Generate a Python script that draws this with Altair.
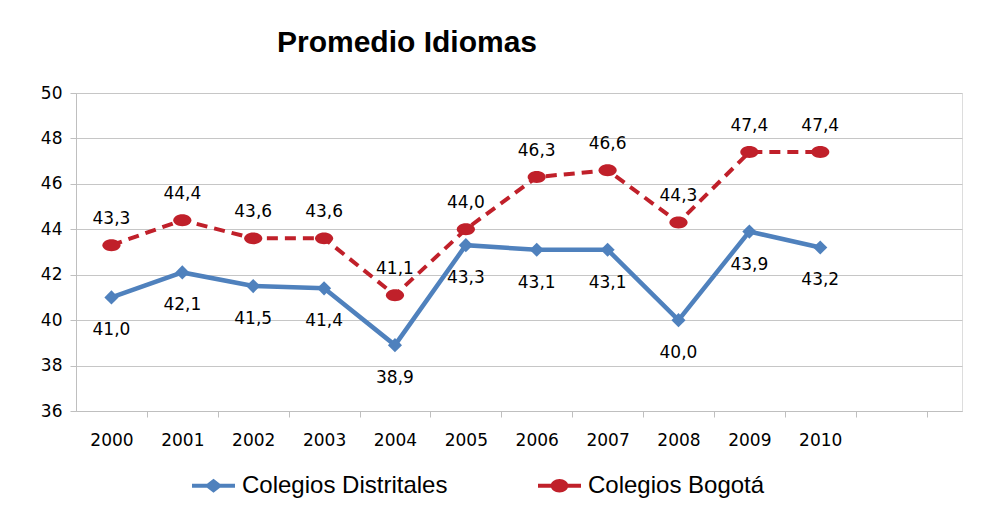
import altair as alt
import pandas as pd

years = [2000, 2001, 2002, 2003, 2004, 2005, 2006, 2007, 2008, 2009, 2010]
distritales = [41.0, 42.1, 41.5, 41.4, 38.9, 43.3, 43.1, 43.1, 40.0, 43.9, 43.2]
bogota = [43.3, 44.4, 43.6, 43.6, 41.1, 44.0, 46.3, 46.6, 44.3, 47.4, 47.4]
series = ["Colegios Distritales", "Colegios Bogotá"]
colors = ["#4f81bd", "#c0202a"]
y_ticks = [36, 38, 40, 42, 44, 46, 48, 50]
x_boundaries = [y + 0.5 for y in years] + [2011.5]

rows = []
for yr, v in zip(years, distritales):
    rows.append({"year": yr, "serie": series[0], "valor": v})
for yr, v in zip(years, bogota):
    rows.append({"year": yr, "serie": series[1], "valor": v})
df = pd.DataFrame(rows)

W, H = 886, 318
px_per_year = W / 12.5

x_enc = alt.X(
    "year:Q",
    scale=alt.Scale(domain=[1999.5, 2012], nice=False, zero=False),
    axis=alt.Axis(
        title=None,
        values=x_boundaries,
        labelExpr="datum.value < 2011 ? format(datum.value - 0.5, 'd') : ''",
        labelOffset=-px_per_year / 2,
        labelOverlap=False,
        labelFlush=False,
        grid=False,
        tickSize=6,
        tickColor="#bfbfbf",
        domainColor="#bfbfbf",
        labelFont="DejaVu Sans",
        labelFontSize=17,
        labelColor="#000000",
        labelPadding=15,
    ),
)
y_enc = alt.Y(
    "valor:Q",
    scale=alt.Scale(domain=[36, 50], nice=False, zero=False),
    axis=alt.Axis(
        title=None,
        values=y_ticks,
        grid=True,
        gridColor="#c6c6c6",
        gridWidth=1.2,
        tickSize=6,
        tickColor="#bfbfbf",
        domainColor="#bfbfbf",
        labelFont="DejaVu Sans",
        labelFontSize=17,
        labelColor="#000000",
        labelPadding=8,
    ),
)

base = alt.Chart(df)

blue_f = alt.datum.serie == series[0]
red_f = alt.datum.serie == series[1]

line_blue = base.transform_filter(blue_f).mark_line(
    color=colors[0], strokeWidth=4.5
).encode(x=x_enc, y=y_enc)
line_red = base.transform_filter(red_f).mark_line(
    color=colors[1], strokeWidth=4, strokeDash=[11, 7]
).encode(x=x_enc, y=y_enc)

ellipse = "M-1,0 A1,0.66 0 1,1 1,0 A1,0.66 0 1,1 -1,0 Z"
pts_blue = base.transform_filter(blue_f).mark_point(
    filled=True, shape="diamond", size=200, color=colors[0], opacity=1
).encode(x=x_enc, y=y_enc)
pts_red = base.transform_filter(red_f).mark_point(
    filled=True, shape=ellipse, size=330, color=colors[1], opacity=1
).encode(x=x_enc, y=y_enc)

lab_expr = "replace(format(datum.valor, '.1f'), '.', ',')"
txt_blue = base.transform_filter(blue_f).transform_calculate(
    lab=lab_expr
).mark_text(font="DejaVu Sans", fontSize=17, color="#000000", dy=33).encode(
    x=x_enc, y=y_enc, text="lab:N"
)
txt_red = base.transform_filter(red_f).transform_calculate(
    lab=lab_expr
).mark_text(font="DejaVu Sans", fontSize=17, color="#000000", dy=-26).encode(
    x=x_enc, y=y_enc, text="lab:N"
)

blue_sym = (
    "M-1,-0.095 L-0.3,-0.095 L0,-0.33 L0.3,-0.095 L1,-0.095 L1,0.095 "
    "L0.3,0.095 L0,0.33 L-0.3,0.095 L-1,0.095 Z"
)
red_sym = (
    "M-1,-0.095 L1,-0.095 L1,0.095 L-1,0.095 Z "
    "M-0.41,0 A0.41,0.31 0 1,1 0.41,0 A0.41,0.31 0 1,1 -0.41,0 Z"
)

leg = alt.Legend(
    title=None,
    orient="none",
    direction="horizontal",
    legendX=116,
    legendY=371,
    symbolOpacity=1,
    symbolStrokeWidth=0,
    symbolSize=1849,
    labelFont="Liberation Sans",
    labelFontSize=24,
    labelColor="#000000",
    labelOffset=7,
    columnPadding=90,
    labelLimit=400,
)

legend_layer = base.mark_point(filled=True, opacity=0).encode(
    x=x_enc,
    y=y_enc,
    color=alt.Color("serie:N", scale=alt.Scale(domain=series, range=colors), legend=leg),
    shape=alt.Shape("serie:N", scale=alt.Scale(domain=series, range=[blue_sym, red_sym]), legend=leg),
)

chart = (
    alt.layer(line_blue, line_red, pts_blue, pts_red, txt_blue, txt_red, legend_layer)
    .properties(
        width=W,
        height=H,
        autosize=alt.AutoSizeParams(type="none"),
        padding={"left": 68, "top": 85, "right": 25, "bottom": 94},
        title=alt.TitleParams(
            "Promedio Idiomas",
            anchor="start",
            frame="group",
            dx=201,
            offset=26,
            font="Liberation Sans",
            fontSize=30,
            fontWeight="bold",
            color="#000000",
        ),
    )
    .configure_view(stroke=None)
    .configure(background="white")
)

chart.save("out.html", embed_options={"renderer": "svg", "actions": False})
